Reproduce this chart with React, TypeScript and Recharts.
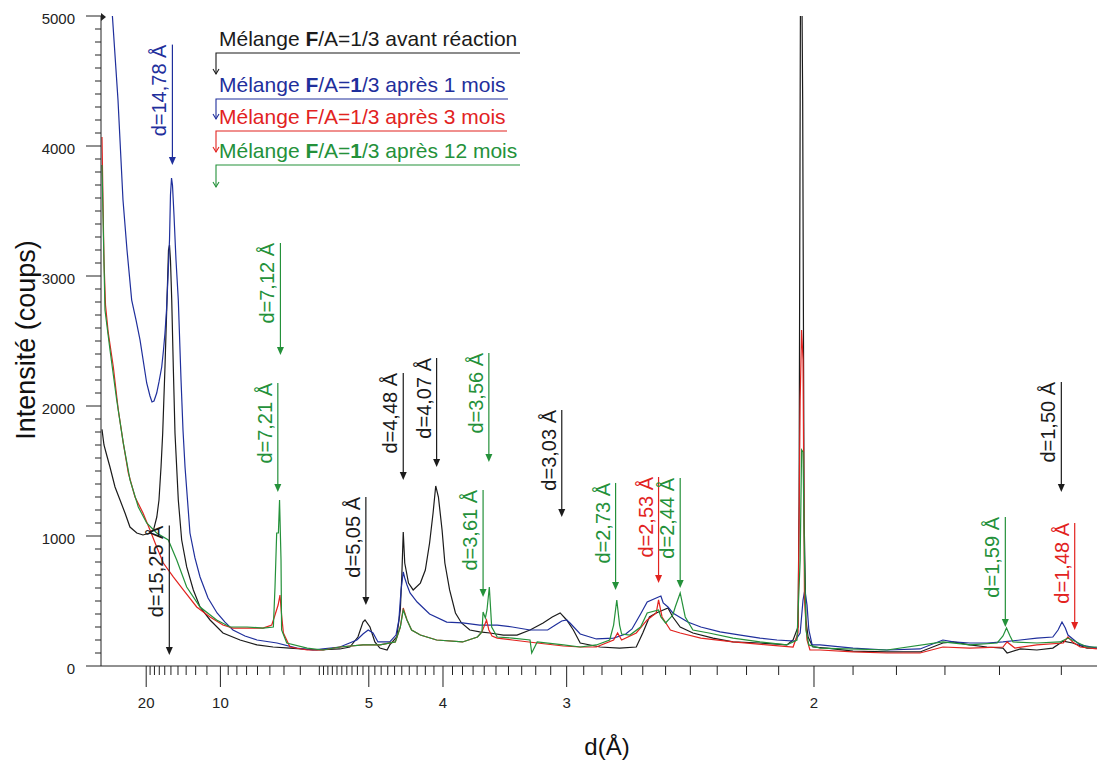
import React from 'react'
import { LineChart, Line, XAxis, YAxis, ReferenceLine, Customized } from 'recharts'

// diffractogrammes : [d (Å), intensité (coups)]
const avantReaction: [number, number][] = [
  [49.5, 1820], [46.4, 1700], [42.8, 1623], [39.1, 1531], [34.5, 1377], [30.9, 1277], [28.0, 1177],
  [25.6, 1069], [22.9, 1023], [20.9, 1008], [19.0, 1023], [18.2, 1046], [17.5, 1146], [17.06, 1277],
  [16.67, 1531], [16.36, 1792], [15.96, 2300], [15.62, 2815], [15.38, 3200], [15.22, 3238], [15.07, 3123],
  [14.88, 2815], [14.65, 2300], [14.41, 1792], [13.96, 1277], [13.53, 969], [12.94, 762], [12.23, 585],
  [11.59, 454], [10.75, 354], [9.83, 254], [8.83, 200], [8.02, 162], [7.38, 146], [6.81, 138], [6.06, 123],
  [5.54, 131], [5.34, 146], [5.19, 223], [5.10, 338], [5.065, 354], [4.98, 300], [4.90, 185], [4.82, 138],
  [4.71, 123], [4.67, 162], [4.57, 223], [4.52, 431], [4.50, 685], [4.48, 1031], [4.46, 792], [4.41, 638],
  [4.35, 585], [4.26, 638], [4.20, 738], [4.15, 946], [4.11, 1177], [4.08, 1385], [4.05, 1300], [4.01, 1046],
  [3.98, 792], [3.93, 585], [3.87, 408], [3.81, 331], [3.73, 277], [3.64, 262], [3.55, 254], [3.44, 238],
  [3.335, 238], [3.24, 277], [3.15, 331], [3.09, 377], [3.04, 408], [3.00, 354], [2.96, 277], [2.92, 177],
  [2.81, 146], [2.71, 138], [2.63, 146], [2.60, 254], [2.57, 377], [2.54, 408], [2.49, 446], [2.47, 377],
  [2.44, 300], [2.39, 254], [2.315, 215], [2.245, 185], [2.157, 177], [2.076, 162], [2.058, 200], [2.044, 300],
  [2.041, 1270], [2.038, 4350], [2.036, 6300], [2.031, 4350], [2.027, 1130], [2.022, 354], [2.016, 223],
  [2.003, 146], [1.966, 138], [1.900, 115], [1.821, 108], [1.750, 108], [1.704, 177], [1.684, 185],
  [1.653, 162], [1.622, 146], [1.594, 138], [1.587, 100], [1.565, 131], [1.538, 123], [1.513, 138],
  [1.497, 192], [1.483, 177], [1.462, 138], [1.448, 138],
]

const apres1Mois: [number, number][] = [
  [37.1, 5046], [32.26, 4354], [29.1, 3585], [26.98, 3200], [24.86, 2815], [23.19, 2662], [21.82, 2508],
  [19.87, 2177], [19.03, 2077], [18.55, 2031], [18.10, 2038], [17.52, 2100], [17.06, 2185], [16.54, 2300],
  [16.22, 2431], [15.96, 2562], [15.70, 2738], [15.41, 3046], [15.22, 3277], [15.07, 3623], [14.91, 3754],
  [14.77, 3700], [14.55, 3469], [14.27, 3123], [13.96, 2815], [13.61, 2200], [13.37, 1815], [13.13, 1531],
  [12.58, 1023], [12.07, 831], [11.59, 685], [10.91, 523], [10.23, 408], [9.70, 338], [9.22, 277],
  [8.58, 231], [8.02, 200], [7.24, 177], [6.60, 138], [6.16, 123], [5.91, 131], [5.54, 146], [5.21, 200],
  [5.10, 246], [5.01, 277], [4.93, 254], [4.85, 185], [4.67, 185], [4.58, 238], [4.54, 354], [4.51, 585],
  [4.48, 723], [4.46, 677], [4.43, 623], [4.39, 562], [4.30, 492], [4.15, 400], [3.96, 338], [3.80, 331],
  [3.64, 315], [3.49, 315], [3.37, 300], [3.24, 277], [3.12, 277], [3.07, 315], [3.03, 346], [3.00, 354],
  [2.98, 331], [2.92, 246], [2.83, 208], [2.74, 215], [2.68, 246], [2.65, 285], [2.61, 400], [2.58, 492],
  [2.54, 523], [2.52, 538], [2.51, 485], [2.49, 454], [2.47, 408], [2.41, 338], [2.36, 300], [2.29, 262],
  [2.22, 238], [2.157, 215], [2.105, 200], [2.053, 192], [2.038, 254], [2.030, 508], [2.025, 585],
  [2.019, 469], [2.014, 277], [2.005, 162], [1.984, 162], [1.900, 138], [1.821, 123], [1.750, 131],
  [1.704, 200], [1.684, 185], [1.653, 177], [1.622, 177], [1.594, 185], [1.565, 200], [1.538, 215],
  [1.513, 223], [1.505, 277], [1.499, 338], [1.494, 292], [1.490, 238], [1.472, 162], [1.448, 138],
]

const apres3Mois: [number, number][] = [
  [49.5, 4070], [47.9, 3585], [46.4, 3123], [44.3, 2777], [40.9, 2562], [35.9, 2300], [32.05, 1969],
  [28.93, 1715], [26.36, 1485], [23.56, 1300], [20.9, 1177], [19.03, 1046], [17.52, 915], [16.25, 792],
  [14.65, 685], [13.33, 585], [11.90, 454], [10.75, 377], [9.83, 315], [9.22, 292], [8.34, 292], [7.77, 292],
  [7.43, 315], [7.31, 392], [7.20, 469], [7.135, 546], [7.08, 392], [7.02, 254], [6.81, 146], [6.31, 123],
  [5.91, 123], [5.54, 146], [5.10, 162], [4.82, 162], [4.59, 185], [4.52, 300], [4.48, 446], [4.43, 354],
  [4.37, 277], [4.26, 238], [4.07, 200], [3.80, 185], [3.66, 223], [3.62, 262], [3.58, 354], [3.56, 277],
  [3.533, 231], [3.49, 215], [3.37, 200], [3.19, 177], [3.02, 154], [2.92, 146], [2.83, 146], [2.74, 200],
  [2.72, 254], [2.70, 200], [2.63, 254], [2.58, 354], [2.54, 408], [2.53, 508], [2.515, 377], [2.48, 277],
  [2.44, 254], [2.36, 215], [2.245, 185], [2.135, 162], [2.058, 146], [2.044, 254], [2.038, 2046],
  [2.034, 2585], [2.030, 2354], [2.026, 508], [2.019, 200], [2.011, 123], [1.984, 123], [1.900, 108],
  [1.821, 100], [1.750, 100], [1.704, 146], [1.653, 138], [1.594, 146], [1.587, 185], [1.574, 138],
  [1.538, 162], [1.497, 177], [1.490, 223], [1.483, 185], [1.472, 146], [1.448, 131],
]

const apres12Mois: [number, number][] = [
  [49.5, 3854], [47.4, 3354], [45.0, 2738], [39.05, 2431], [33.2, 2046], [28.93, 1715], [25.59, 1431],
  [22.38, 1223], [19.87, 1100], [17.52, 1023], [15.41, 969], [14.17, 815], [12.94, 608], [11.59, 454],
  [10.26, 354], [9.39, 300], [8.48, 300], [7.77, 292], [7.37, 300], [7.31, 608], [7.25, 1023], [7.19, 1023],
  [7.15, 1277], [7.10, 815], [7.08, 277], [6.91, 177], [6.31, 138], [5.91, 123], [5.54, 146], [5.10, 162],
  [4.82, 162], [4.59, 185], [4.52, 300], [4.48, 431], [4.43, 354], [4.37, 277], [4.26, 238], [4.07, 200],
  [3.80, 185], [3.66, 223], [3.62, 262], [3.61, 415], [3.59, 369], [3.576, 431], [3.556, 608], [3.536, 300],
  [3.49, 223], [3.37, 215], [3.24, 200], [3.228, 100], [3.19, 185], [3.02, 162], [2.92, 146], [2.83, 162],
  [2.76, 200], [2.74, 315], [2.724, 508], [2.71, 315], [2.70, 246], [2.66, 238], [2.61, 300], [2.58, 408],
  [2.53, 431], [2.52, 377], [2.50, 331], [2.47, 392], [2.46, 454], [2.44, 562], [2.42, 377], [2.39, 277],
  [2.33, 254], [2.245, 215], [2.157, 185], [2.076, 162], [2.047, 200], [2.038, 815], [2.034, 1662],
  [2.030, 1646], [2.026, 815], [2.022, 277], [2.014, 162], [1.984, 138], [1.821, 123], [1.704, 185],
  [1.653, 162], [1.604, 177], [1.594, 231], [1.588, 292], [1.582, 231], [1.577, 185], [1.538, 177],
  [1.502, 185], [1.490, 215], [1.462, 146], [1.448, 146],
]

const SERIES_NAMES = [
  'Mélange F/A=1/3 avant réaction',
  'Mélange F/A=1/3 après 1 mois',
  'Mélange F/A=1/3 après 3 mois',
  'Mélange F/A=1/3 après 12 mois',
]

// axe des d (Å), gradué en 1/d
const X_MAJOR_D = [20, 10, 5, 4, 3, 2]
const X_MAJOR_LABELS = ['20', '10', '5', '4', '3', '2']
const X_MINOR_D = [
  19, 18, 17, 16, 15, 14, 13, 12, 11,
  9.5, 9, 8.5, 8, 7.5, 7, 6.5, 6,
  5.9, 5.8, 5.7, 5.6, 5.5, 5.4, 5.3, 5.2, 5.1,
  4.9, 4.8, 4.7, 4.6, 4.5, 4.4, 4.3, 4.2, 4.1,
  3.9, 3.8, 3.7, 3.6, 3.5, 3.4, 3.3, 3.2, 3.1,
  2.9, 2.8, 2.7, 2.6, 2.5, 2.4, 2.3, 2.2, 2.1,
  1.9, 1.8, 1.7, 1.6, 1.5,
]
const Y_MAJOR = [0, 1000, 2000, 3000, 4000, 5000]
const Y_LABELS = ['0', '1000', '2000', '3000', '4000', '5000']

// pics repérés : d, haut et bas de la flèche (coups)
const PEAK_TEXT = ['d=14,78 Å', 'd=15,25 Å', 'd=7,12 Å', 'd=7,21 Å', 'd=5,05 Å', 'd=4,48 Å', 'd=4,07 Å', 'd=3,56 Å',
  'd=3,61 Å', 'd=3,03 Å', 'd=2,73 Å', 'd=2,53 Å', 'd=2,44 Å', 'd=1,59 Å', 'd=1,48 Å', 'd=1,50 Å']
const PEAK_D = [14.78, 15.25, 7.12, 7.21, 5.05, 4.48, 4.07, 3.56, 3.61, 3.03, 2.73, 2.53, 2.44, 1.59, 1.48, 1.50]
const PEAK_TOP = [4780, 1080, 3254, 2177, 1300, 2254, 2369, 2408, 1354, 1969, 1408, 1454, 1446, 1146, 1100, 2185]
const PEAK_BOTTOM = [3854, 85, 2392, 1338, 469, 1431, 1531, 1569, 531, 1146, 585, 638, 600, 300, 277, 1338]
const PEAK_SERIES = [1, 0, 3, 3, 0, 0, 0, 3, 3, 0, 3, 2, 3, 3, 2, 0]

const COLORS = ['#1b1b1b', '#1f2f9c', '#e2231f', '#24913a']
const AXIS = '#222'
const FONT = 'Arial, "Liberation Sans", Helvetica, sans-serif'
const Q_MIN = 0.019542
const Q_MAX = 0.690701

const toRows = (pts: [number, number][]) => pts.map(([d, v]) => ({ q: 1 / d, v }))
const seriesData = [avantReaction, apres1Mois, apres3Mois, apres12Mois].map(toRows)
const xTicks = [...X_MAJOR_D, ...X_MINOR_D].map((d) => 1 / d)
const yTicks = Array.from({ length: 51 }, (_, i) => i * 100)

function XTick({ x, y, payload }: any) {
  const d = 1 / payload.value
  const i = X_MAJOR_D.findIndex((m) => Math.abs(m - d) < 1e-6)
  if (i < 0) return <line x1={x} x2={x} y1={y} y2={y + 9} stroke={AXIS} />
  return (
    <g>
      <line x1={x} x2={x} y1={y} y2={y + 21} stroke={AXIS} />
      <text x={x} y={y + 42} textAnchor="middle" fontSize={15} fontFamily={FONT} fill={AXIS}>
        {X_MAJOR_LABELS[i]}
      </text>
    </g>
  )
}

function YTick({ x, y, payload }: any) {
  const i = Y_MAJOR.indexOf(payload.value)
  if (i < 0) return <line x1={x - 6} x2={x} y1={y} y2={y} stroke={AXIS} />
  return (
    <g>
      <line x1={x - 15} x2={x} y1={y} y2={y} stroke={AXIS} />
      <text x={x - 26} y={y + 8} textAnchor="end" fontSize={15} fontFamily={FONT} fill={AXIS}>
        {Y_LABELS[i]}
      </text>
    </g>
  )
}

const peakArrow = (text: string, color: string) => (p: any) => {
  const { x1, y1, y2 } = p
  return (
    <g>
      <line x1={x1} x2={x1} y1={y1} y2={y2 - 6} stroke={color} strokeWidth={1.2} />
      <polygon points={`${x1 - 3.5},${y2 - 8} ${x1 + 3.5},${y2 - 8} ${x1},${y2}`} fill={color} />
      <text transform={`translate(${x1 - 6},${y1}) rotate(-90)`} textAnchor="end"
        fontSize={20} fontFamily={FONT} fill={color}>{text}</text>
    </g>
  )
}

// légende et titres des axes
const LEGEND_ROWS = [
  { base: 46, line: 53, end: 520, down: 74 },
  { base: 92, line: 99, end: 508, down: 119 },
  { base: 124, line: 131, end: 507, down: 152 },
  { base: 158, line: 165, end: 520, down: 187 },
]

function Overlay() {
  return (
    <g fontFamily={FONT}>
      {SERIES_NAMES.map((name, i) => {
        const r = LEGEND_ROWS[i]
        const c = COLORS[i]
        const [pre, post] = name.split('F/A=1/3')
        return (
          <g key={name}>
            <text x={219} y={r.base} fontSize={21} fill={c}>
              {pre}
              <tspan fontWeight={i === 2 ? 400 : 700}>F</tspan>/A=
              <tspan fontWeight={i === 1 || i === 3 ? 700 : 400}>1</tspan>/3{post}
            </text>
            <polyline points={`${r.end},${r.line} 216,${r.line} 216,${r.down}`} fill="none" stroke={c} strokeWidth={1.1} />
            <polyline points={`213,${r.down - 5} 216,${r.down} 219,${r.down - 5}`} fill="none" stroke={c} strokeWidth={1.1} />
          </g>
        )
      })}
      <polygon points="101,13 106,17 101,21" fill={AXIS} />
      <text transform="translate(35,340) rotate(-90)" textAnchor="middle" fontSize={27} fill="#111">
        Intensité (coups)
      </text>
      <text x={607} y={755} textAnchor="middle" fontSize={24} fill="#111">d(Å)</text>
    </g>
  )
}

export default function App() {
  return (
    <div style={{ position: 'absolute', left: 0, top: 0, background: '#fff' }}>
      <LineChart width={1097} height={763} margin={{ top: 16, right: 0, left: 0, bottom: 0 }}>
        <XAxis type="number" dataKey="q" domain={[Q_MIN, Q_MAX]} allowDataOverflow ticks={xTicks}
          interval={0} tick={<XTick />} tickLine={false} tickSize={0} tickMargin={0} height={97}
          axisLine={{ stroke: AXIS }} />
        <YAxis type="number" domain={[0, 5000]} allowDataOverflow ticks={yTicks} interval={0}
          tick={<YTick />} tickLine={false} tickSize={0} tickMargin={0} width={101}
          axisLine={{ stroke: AXIS }} />
        {seriesData.map((rows, i) => (
          <Line key={SERIES_NAMES[i]} data={rows} dataKey="v" type="linear" stroke={COLORS[i]}
            strokeWidth={1.2} dot={false} activeDot={false} isAnimationActive={false} />
        ))}
        {PEAK_D.map((d, i) => (
          <ReferenceLine key={PEAK_TEXT[i]} ifOverflow="visible"
            segment={[{ x: 1 / d, y: PEAK_TOP[i] }, { x: 1 / d, y: PEAK_BOTTOM[i] }]}
            shape={peakArrow(PEAK_TEXT[i], COLORS[PEAK_SERIES[i]])} />
        ))}
        <Customized component={Overlay} />
      </LineChart>
    </div>
  )
}
